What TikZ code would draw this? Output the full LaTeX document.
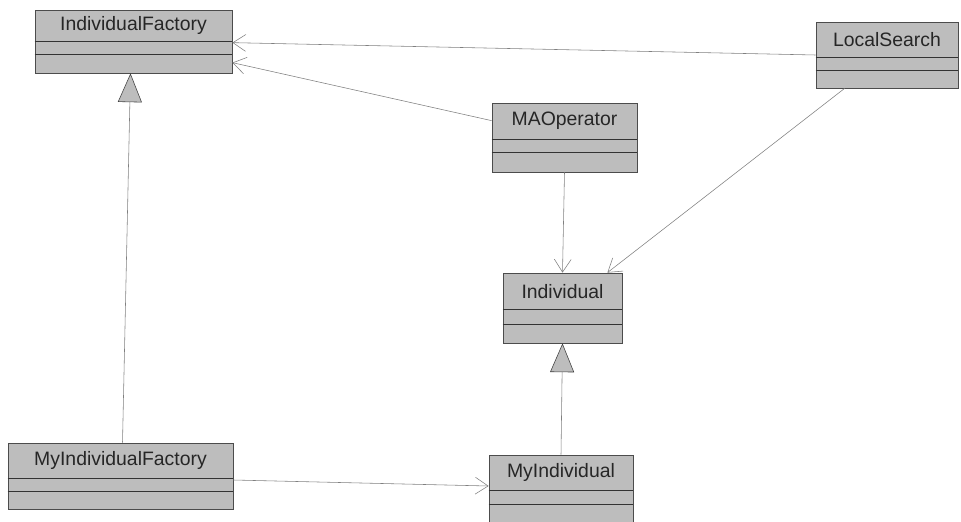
\documentclass[tikz,border=0pt]{standalone}
\usepackage{fontspec}
\setmainfont{Liberation Sans}
\usepackage{tikz}
\usetikzlibrary{arrows.meta, positioning, calc}

\begin{document}
\begin{tikzpicture}[
    x=0.025cm, y=-0.025cm,
    box/.style={draw=black!70, fill=black!26, line width=0.5pt, inner sep=0pt},
    sep/.style={draw=black!80, line width=0.6pt},
    clsname/.style={font=\fontsize{13.8}{16}\selectfont, text=black!85, inner sep=0pt},
    arr/.style={draw=black!50, line width=0.4pt, -{Straight Barb[length=3.2mm, width=4.2mm]}},
    gen/.style={draw=black!50, line width=0.4pt, -{Triangle[length=7.2mm, width=6mm, fill=black!26, color=black!75]}},
]
\useasboundingbox (0,0) rectangle (961,521);

% classes
\node[box, minimum width=4.925cm, minimum height=1.575cm] (indfac) at (133.5,41.5) {};
\node[box, minimum width=3.55cm, minimum height=1.65cm] (ls) at (887,55) {};
\node[box, minimum width=3.625cm, minimum height=1.725cm] (mao) at (564.5,137.5) {};
\node[box, minimum width=2.975cm, minimum height=1.75cm] (ind) at (562.5,308) {};
\node[box, minimum width=5.625cm, minimum height=1.65cm] (myfac) at (120.5,476) {};
\node[box, minimum width=3.6cm, minimum height=1.75cm] (myind) at (561,490) {};

% compartments and names
\foreach \n/\a/\b/\t in {indfac/32/45/IndividualFactory, ls/36/49/LocalSearch,
    mao/37/50/MAOperator, ind/37/52/Individual,
    myfac/36/49/MyIndividualFactory, myind/36/50/MyIndividual} {
  \draw[sep] ($(\n.north west)+(0,\a)$) -- ($(\n.north east)+(0,\a)$);
  \draw[sep] ($(\n.north west)+(0,\b)$) -- ($(\n.north east)+(0,\b)$);
  \node[clsname] (\n-t) at ($(\n.north)+(0,0.5*\a)$) {\t};
}

% associations
\draw[arr] (ls.west) -- ($(indfac.north east)+(0,33)$);
\draw[arr] ($(mao.north west)+(0,18)$) -- ($(indfac.north east)+(0,53)$);
\draw[arr] (mao.south) -- (ind.north);
\draw[arr] ($(ls.south west)+(29,0)$) -- ($(ind.north east)+(-15,0)$);
\draw[arr] ($(myfac.east)+(0,4)$) -- ($(myind.west)+(0,-4)$);

% generalizations
\draw[gen] (myind.north) -- (ind.south);
\draw[gen] ($(myfac.north)+(2,0)$) -- ($(indfac.south)+(-3,0)$);
\end{tikzpicture}
\end{document}
